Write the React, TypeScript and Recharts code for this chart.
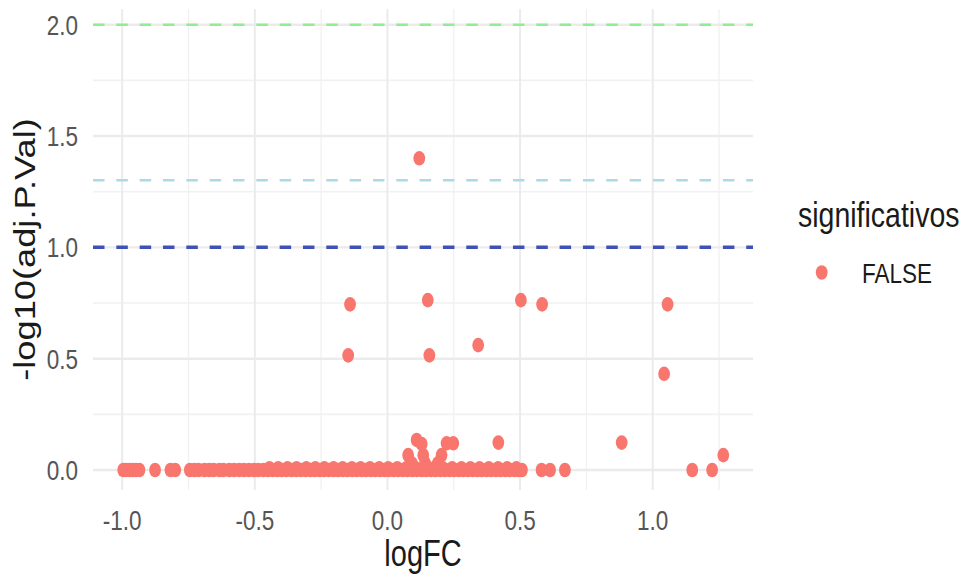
import React from 'react';
import { ScatterChart, Scatter, XAxis, YAxis, ReferenceLine, Legend, Label } from 'recharts';

// ---------- data ----------
const logFC: number[] = [
  // upper points
  0.120, -0.141, -0.148, 0.152, 0.158, 0.342, 0.503, 0.583, 1.056, 1.043,
  // low points
  0.110, 0.129, 0.078, 0.135, 0.223, 0.248, 0.204, 0.418, 0.883, 1.266,
  0.092, 0.142, 0.190,
  // zero band
  -0.996, -0.985, -0.972, -0.960, -0.948, -0.935, -0.876, -0.818, -0.800,
  -0.745, -0.728, -0.712, -0.690, -0.672, -0.655, -0.634, -0.618, -0.596, -0.578,
  -0.559, -0.541, -0.522, -0.503, -0.487, -0.468, -0.451, -0.433, -0.415, -0.398,
  -0.381, -0.362, -0.344, -0.327, -0.309, -0.291, -0.274, -0.256, -0.239, -0.221,
  -0.203, -0.186, -0.168, -0.151, -0.133, -0.116, -0.098, -0.081, -0.063, -0.046,
  -0.028, -0.011, 0.006, 0.024, 0.041, 0.059, 0.076, 0.094, 0.111, 0.129,
  0.146, 0.164, 0.181, 0.199, 0.216, 0.234, 0.251, 0.269, 0.286, 0.304,
  0.321, 0.339, 0.356, 0.374, 0.391, 0.409, 0.426, 0.444, 0.461, 0.479,
  0.494, 0.507, 0.581, 0.613, 0.669, 1.149, 1.224,
  // slightly above zero (dense part of the band)
  -0.445, -0.412, -0.377, -0.343, -0.306, -0.272, -0.238, -0.203, -0.169, -0.134,
  -0.101, -0.066, -0.031, 0.003, 0.037, 0.071, 0.106, 0.141, 0.176, 0.209,
  0.244, 0.279, 0.313, 0.347, 0.382, 0.417, 0.451, 0.486,
];

const negLog10AdjP: number[] = [
  1.400, 0.744, 0.515, 0.763, 0.515, 0.561, 0.763, 0.744, 0.744, 0.432,
  0.135, 0.117, 0.067, 0.067, 0.120, 0.120, 0.067, 0.123, 0.123, 0.067,
  0.030, 0.030, 0.030,
  0, 0, 0, 0, 0, 0, 0, 0, 0,
  0, 0, 0, 0, 0, 0, 0, 0, 0, 0,
  0, 0, 0, 0, 0, 0, 0, 0, 0, 0,
  0, 0, 0, 0, 0, 0, 0, 0, 0, 0,
  0, 0, 0, 0, 0, 0, 0, 0, 0, 0,
  0, 0, 0, 0, 0, 0, 0, 0, 0, 0,
  0, 0, 0, 0, 0, 0, 0, 0, 0, 0,
  0, 0, 0, 0, 0, 0, 0, 0, 0, 0,
  0, 0, 0, 0, 0, 0, 0,
  0.008, 0.008, 0.008, 0.008, 0.008, 0.008, 0.008, 0.008, 0.008, 0.008,
  0.008, 0.008, 0.008, 0.008, 0.008, 0.008, 0.008, 0.008, 0.008, 0.008,
  0.008, 0.008, 0.008, 0.008, 0.008, 0.008, 0.008, 0.008,
];

const seriesName = 'FALSE';
const legendTitle = 'significativos';
const xTitle = 'logFC';
const yTitle = '-log10(adj.P.Val)';

const xTicks = [-1, -0.5, 0, 0.5, 1];
const xTickLabels = ['-1.0', '-0.5', '0.0', '0.5', '1.0'];
const xMinor = [-0.75, -0.25, 0.25, 0.75, 1.25];
const yTicks = [0, 0.5, 1, 1.5, 2];
const yTickLabels = ['0.0', '0.5', '1.0', '1.5', '2.0'];
const yMinor = [0.25, 0.75, 1.25, 1.75];
const thresholdValues = [2, 1.30103, 1];

const data = logFC.map((v, i) => ({ logFC: v, p: negLog10AdjP[i] }));

// ---------- styles / layout ----------
const W = 972;
const H = 579;
const PLOT_LEFT = 93;
const PLOT_RIGHT = 753;
const PLOT_TOP = 9;
const PLOT_BOTTOM = 490;
const STRETCH = 1.25;
const FONT = '"Liberation Sans", Arial, Helvetica, sans-serif';
const POINT = '#F8766D';
const thresholdColors = ['#90EE90', '#ADD8E6', '#3F51B5'];
const thresholdWidths = [2.5, 2.5, 3.5];

const XTick = (props: any) => {
  const v = props.payload?.value;
  const i = xTicks.indexOf(v);
  return (
    <text
      transform={`translate(${props.x},${PLOT_BOTTOM + 30}) scale(1,${STRETCH})`}
      textAnchor="middle"
      dominantBaseline="central"
      fontFamily={FONT}
      fontSize={22.5}
      fill="#555555"
    >
      {i >= 0 ? xTickLabels[i] : String(v)}
    </text>
  );
};

const YTick = (props: any) => {
  const v = props.payload?.value;
  const i = yTicks.indexOf(v);
  return (
    <text
      transform={`translate(${PLOT_LEFT - 15},${props.y}) scale(1,${STRETCH})`}
      textAnchor="end"
      dominantBaseline="central"
      fontFamily={FONT}
      fontSize={22.5}
      fill="#555555"
    >
      {i >= 0 ? yTickLabels[i] : String(v)}
    </text>
  );
};

const XTitle = () => (
  <text
    transform={`translate(${(PLOT_LEFT + PLOT_RIGHT) / 2},${PLOT_BOTTOM + 76}) scale(1,${STRETCH})`}
    textAnchor="middle"
    fontFamily={FONT}
    fontSize={29}
    fill="#1a1a1a"
  >
    {xTitle}
  </text>
);

const YTitle = () => (
  <text
    transform={`translate(25,${(PLOT_TOP + PLOT_BOTTOM) / 2}) rotate(-90) scale(${STRETCH},1)`}
    textAnchor="middle"
    dominantBaseline="central"
    fontFamily={FONT}
    fontSize={29}
    fill="#1a1a1a"
  >
    {yTitle}
  </text>
);

const Dot = (props: any) => {
  if (props.cx == null || props.cy == null) return null;
  return <ellipse cx={props.cx} cy={props.cy} rx={5.9} ry={7.3} fill={POINT} />;
};

const LegendContent = (props: any) => {
  const items = props.payload || [];
  return (
    <svg width={192} height={120} style={{ overflow: 'visible' }}>
      <text
        transform={`translate(18,47) scale(1,${STRETCH})`}
        fontFamily={FONT}
        fontSize={28.5}
        fill="#1a1a1a"
      >
        {legendTitle}
      </text>
      {items.map((it: any, k: number) => (
        <g key={k}>
          <ellipse cx={41.7} cy={92.5} rx={5.9} ry={7.3} fill={it.color || POINT} />
          <text
            transform={`translate(82,93.5) scale(1,${STRETCH})`}
            dominantBaseline="central"
            fontFamily={FONT}
            fontSize={22.5}
            fill="#1a1a1a"
          >
            {it.value}
          </text>
        </g>
      ))}
    </svg>
  );
};

export default function App() {
  return (
    <div style={{ position: 'absolute', left: 0, top: 0, width: W, height: H, background: '#fff' }}>
      <ScatterChart
        width={W}
        height={H}
        margin={{ top: PLOT_TOP, right: W - PLOT_RIGHT, bottom: 0, left: 0 }}
      >
        <XAxis
          type="number"
          dataKey="logFC"
          domain={[-1.11, 1.378]}
          ticks={xTicks}
          tick={<XTick />}
          axisLine={false}
          tickLine={false}
          height={H - PLOT_BOTTOM}
          allowDataOverflow
          interval={0}
        >
          <Label content={<XTitle />} />
        </XAxis>
        <YAxis
          type="number"
          dataKey="p"
          domain={[-0.0898, 2.0705]}
          ticks={yTicks}
          tick={<YTick />}
          axisLine={false}
          tickLine={false}
          width={PLOT_LEFT}
          allowDataOverflow
          interval={0}
        >
          <Label content={<YTitle />} />
        </YAxis>
        {xMinor.map((v) => (
          <ReferenceLine key={'xm' + v} x={v} stroke="#F1F1F1" strokeWidth={1.3} />
        ))}
        {yMinor.map((v) => (
          <ReferenceLine key={'ym' + v} y={v} stroke="#F1F1F1" strokeWidth={1.6} />
        ))}
        {xTicks.map((v) => (
          <ReferenceLine key={'xM' + v} x={v} stroke="#EBEBEB" strokeWidth={2} />
        ))}
        {yTicks.map((v) => (
          <ReferenceLine key={'yM' + v} y={v} stroke="#EBEBEB" strokeWidth={2.4} />
        ))}
        {thresholdValues.map((v, i) => (
          <ReferenceLine
            key={'th' + v}
            y={v}
            stroke={thresholdColors[i]}
            strokeWidth={thresholdWidths[i]}
            strokeDasharray="11.5 11.83"
          />
        ))}
        <Scatter
          name={seriesName}
          data={data}
          fill={POINT}
          shape={<Dot />}
          isAnimationActive={false}
        />
        <Legend
          layout="horizontal"
          verticalAlign="middle"
          align="center"
          content={<LegendContent />}
          wrapperStyle={{ position: 'absolute', left: 780, top: 180, width: 192, height: 120 }}
        />
      </ScatterChart>
    </div>
  );
}
